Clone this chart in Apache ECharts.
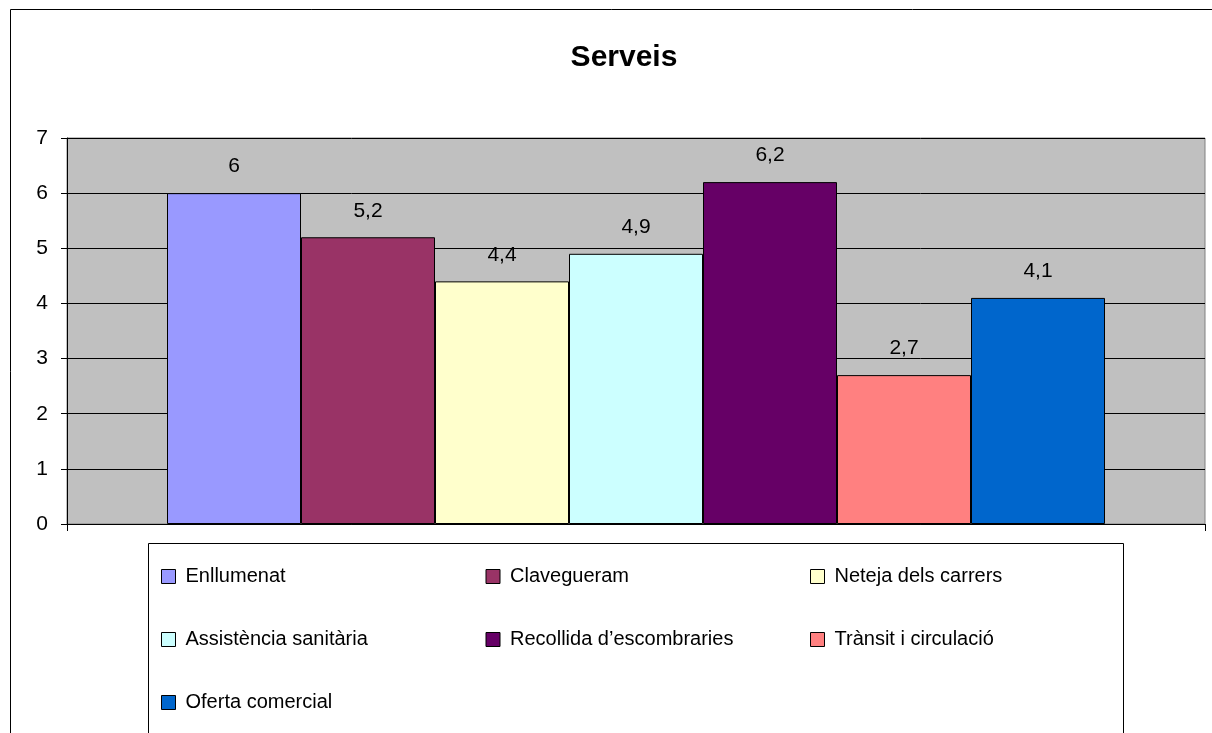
<!DOCTYPE html>
<html>
<head>
<meta charset="utf-8">
<script src="https://cdn.jsdelivr.net/npm/echarts@6/dist/echarts.min.js"></script>
<style>
  html, body { margin: 0; padding: 0; background: #fff; }
  #main { width: 1212px; height: 733px; }
</style>
</head>
<body>
<div id="main"></div>
<script>
var category = ['Serveis']
var seriesNames = ['Enllumenat', 'Clavegueram', 'Neteja dels carrers', 'Assistència sanitària', 'Recollida d\u2019escombraries', 'Trànsit i circulació', 'Oferta comercial']
var seriesValues = [6, 5.2, 4.4, 4.9, 6.2, 2.7, 4.1]
var seriesColors = ['#9999ff', '#993366', '#ffffcc', '#ccffff', '#660066', '#ff8080', '#0066cc']
var yTicks = [0, 1, 2, 3, 4, 5, 6, 7]

var chartDom = document.getElementById('main')
var myChart = echarts.init(chartDom)
var option

var font = 'Liberation Sans, Arial, sans-serif'

option = {
  animation: false,
  textStyle: { fontFamily: font },
  title: {
    text: 'Serveis',
    left: 619,
    top: 38,
    textAlign: 'center',
    textStyle: { fontFamily: font, fontSize: 30, fontWeight: 'bold', color: '#000' }
  },
  graphic: [
    {
      type: 'rect',
      left: 8,
      top: 7,
      shape: { width: 1300, height: 800 },
      style: { fill: 'none', stroke: '#000', lineWidth: 1 },
      silent: true
    },
    {
      type: 'rect',
      left: 148,
      top: 543,
      shape: { width: 975, height: 300 },
      style: { fill: '#fff', stroke: '#000', lineWidth: 1 },
      silent: true,
      z: 0
    }
  ],
  legend: {
    data: seriesNames,
    left: 161,
    top: 545,
    width: 980,
    orient: 'horizontal',
    itemGap: 0,
    itemWidth: 14,
    itemHeight: 14,
    icon: 'rect',
    padding: 0,
    z: 5,
    textStyle: {
      fontFamily: font,
      fontSize: 20,
      color: '#000',
      width: 300,
      lineHeight: 63,
      padding: [0, 0, 0, 5]
    },
    itemStyle: { borderColor: '#000', borderWidth: 1 }
  },
  grid: {
    left: 67,
    right: 7,
    top: 138,
    bottom: 209,
    show: true,
    backgroundColor: '#c0c0c0',
    borderColor: '#808080',
    borderWidth: 1
  },
  xAxis: {
    type: 'category',
    data: category,
    axisLine: { lineStyle: { color: '#000', width: 1 } },
    axisTick: { show: true, length: 7, lineStyle: { color: '#000' } },
    axisLabel: { show: false }
  },
  yAxis: {
    type: 'value',
    min: yTicks[0],
    max: yTicks[yTicks.length - 1],
    interval: 1,
    axisLine: { show: true, lineStyle: { color: '#000' } },
    axisTick: { show: true, length: 6, lineStyle: { color: '#000' } },
    axisLabel: { fontFamily: font, fontSize: 21, color: '#000', margin: 19 },
    splitLine: { show: true, lineStyle: { color: '#000', width: 1 } }
  },
  series: seriesNames.map(function (name, i) {
    return {
      name: name,
      type: 'bar',
      data: [seriesValues[i]],
      barWidth: 134,
      barGap: '0%',
      itemStyle: { color: seriesColors[i], borderColor: '#000', borderWidth: 1 },
      label: {
        show: true,
        position: 'top',
        distance: 16,
        fontFamily: font,
        fontSize: 21,
        color: '#000',
        formatter: function (p) {
          return String(p.value).replace('.', ',')
        }
      }
    }
  })
}

option && myChart.setOption(option)
</script>
</body>
</html>
